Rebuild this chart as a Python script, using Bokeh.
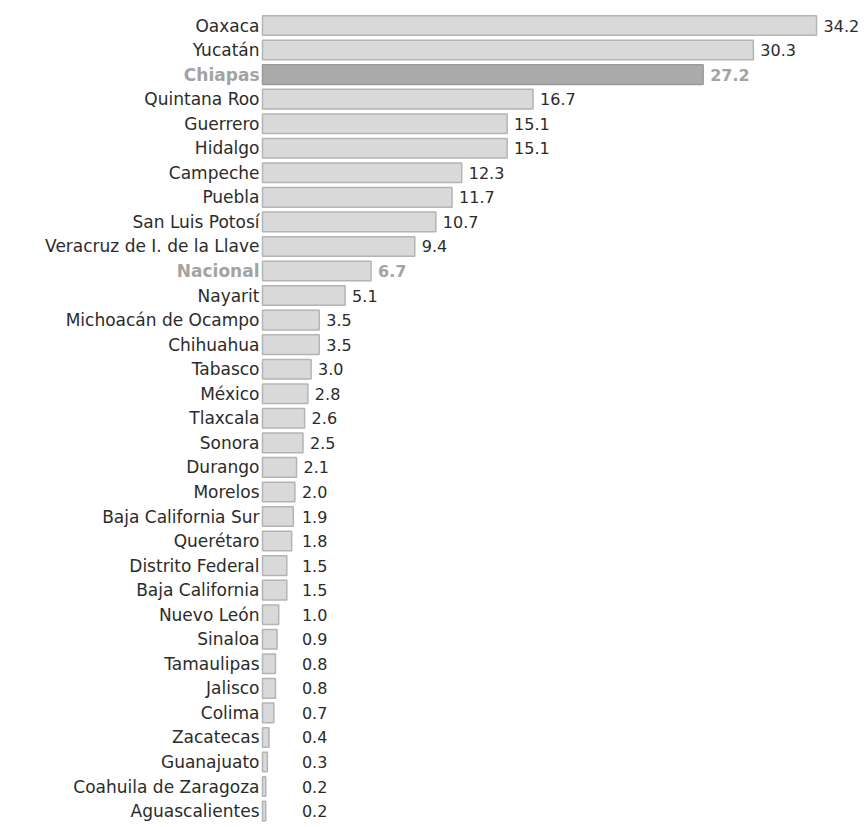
from bokeh.plotting import figure
from bokeh.models import ColumnDataSource, Range1d
from bokeh.embed import file_html
from bokeh.resources import INLINE
from bokeh.core.properties import value

states = ["Oaxaca", "Yucatán", "Chiapas", "Quintana Roo", "Guerrero", "Hidalgo",
          "Campeche", "Puebla", "San Luis Potosí", "Veracruz de I. de la Llave",
          "Nacional", "Nayarit", "Michoacán de Ocampo", "Chihuahua", "Tabasco",
          "México", "Tlaxcala", "Sonora", "Durango", "Morelos", "Baja California Sur",
          "Querétaro", "Distrito Federal", "Baja California", "Nuevo León", "Sinaloa",
          "Tamaulipas", "Jalisco", "Colima", "Zacatecas", "Guanajuato",
          "Coahuila de Zaragoza", "Aguascalientes"]
values = [34.2, 30.3, 27.2, 16.7, 15.1, 15.1, 12.3, 11.7, 10.7, 9.4, 6.7, 5.1, 3.5,
          3.5, 3.0, 2.8, 2.6, 2.5, 2.1, 2.0, 1.9, 1.8, 1.5, 1.5, 1.0, 0.9, 0.8, 0.8,
          0.7, 0.4, 0.3, 0.2, 0.2]
highlight = ["Chiapas", "Nacional"]

W, H = 864, 827
px_per_unit = 16.2
left_px = 262
top_px = 25
pitch = 24.55

n = len(states)
idx = list(range(n))
bar_fill = ["#ababab" if s == "Chiapas" else "#d9d9d9" for s in states]
bar_line = ["#9a9a9a" if s == "Chiapas" else "#b4b4b4" for s in states]
cat_color = ["#a3a3a3" if s in highlight else "#2b2b2b" for s in states]
cat_style = ["bold" if s in highlight else "normal" for s in states]
val_color = ["#a3a3a3" if s in highlight else "#2b2b2b" for s in states]
val_text = [f"{v:.1f}" for v in values]
label_x = [max(v, 2.0) for v in values]

src = ColumnDataSource(dict(y=idx, v=values, name=states, fill=bar_fill, line=bar_line,
                            ccol=cat_color, cstyle=cat_style, vcol=val_color,
                            vtext=val_text, lx=label_x, zero=[0] * n))

x0 = -left_px / px_per_unit
x1 = (W - left_px) / px_per_unit
y_top = -top_px / pitch
y_bot = (H - top_px) / pitch

p = figure(width=W, height=H, output_backend="svg", toolbar_location=None,
           x_range=Range1d(x0, x1), y_range=Range1d(y_bot, y_top),
           min_border=0, min_border_left=0, min_border_right=0,
           min_border_top=0, min_border_bottom=0)
p.axis.visible = False
p.grid.visible = False
p.outline_line_color = None
p.background_fill_color = "white"
p.border_fill_color = "white"

p.hbar(y="y", left="zero", right="v", height=0.8, fill_color="fill",
       line_color="line", line_width=1.5, source=src)

p.text(x="zero", y="y", text="name", text_align="right", text_baseline="middle",
       x_offset=-3, text_color="ccol", text_font_style="cstyle",
       text_font=value("DejaVu Sans"), text_font_size="17px", source=src)

p.text(x="lx", y="y", text="vtext", text_align="left", text_baseline="middle",
       x_offset=7, text_color="vcol", text_font_style="cstyle",
       text_font=value("DejaVu Sans"), text_font_size="16px", source=src)

open("out.html", "w").write(file_html(p, INLINE))
